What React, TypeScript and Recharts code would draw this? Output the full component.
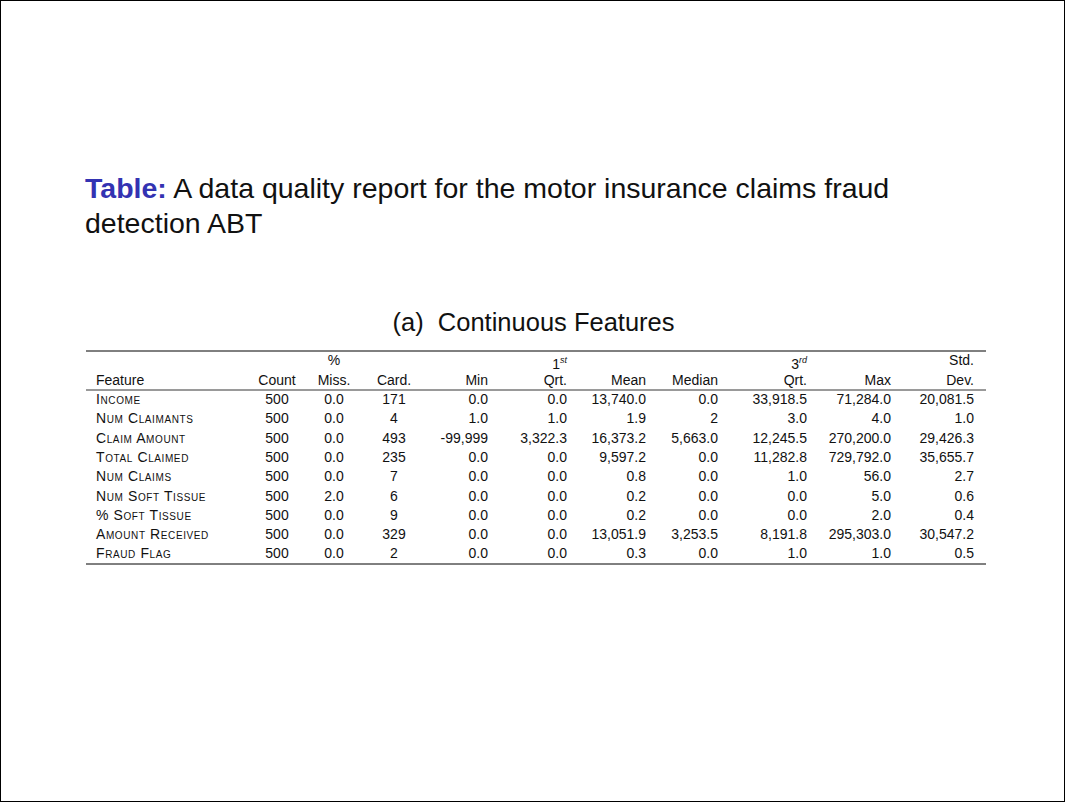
import React from "react"
import { Surface } from "recharts"

const features = ["Income", "Num Claimants", "Claim Amount", "Total Claimed", "Num Claims", "Num Soft Tissue", "% Soft Tissue", "Amount Received", "Fraud Flag"]
const count = ["500", "500", "500", "500", "500", "500", "500", "500", "500"]
const miss = ["0.0", "0.0", "0.0", "0.0", "0.0", "2.0", "0.0", "0.0", "0.0"]
const card = ["171", "4", "493", "235", "7", "6", "9", "329", "2"]
const minV = ["0.0", "1.0", "-99,999", "0.0", "0.0", "0.0", "0.0", "0.0", "0.0"]
const q1 = ["0.0", "1.0", "3,322.3", "0.0", "0.0", "0.0", "0.0", "0.0", "0.0"]
const mean = ["13,740.0", "1.9", "16,373.2", "9,597.2", "0.8", "0.2", "0.2", "13,051.9", "0.3"]
const median = ["0.0", "2", "5,663.0", "0.0", "0.0", "0.0", "0.0", "3,253.5", "0.0"]
const q3 = ["33,918.5", "3.0", "12,245.5", "11,282.8", "1.0", "0.0", "0.0", "8,191.8", "1.0"]
const maxV = ["71,284.0", "4.0", "270,200.0", "729,792.0", "56.0", "5.0", "2.0", "295,303.0", "1.0"]
const std = ["20,081.5", "1.0", "29,426.3", "35,655.7", "2.7", "0.6", "0.4", "30,547.2", "0.5"]

type Col = { vals: string[]; x: number; align: "left" | "right" | "center"; h1: React.ReactNode; h2: string }
const cols: Col[] = [
  { vals: features, x: 95, align: "left", h1: "", h2: "Feature" },
  { vals: count, x: 276, align: "center", h1: "", h2: "Count" },
  { vals: miss, x: 333, align: "center", h1: "%", h2: "Miss." },
  { vals: card, x: 393, align: "center", h1: "", h2: "Card." },
  { vals: minV, x: 487, align: "right", h1: "", h2: "Min" },
  { vals: q1, x: 566, align: "right", h1: <span>1<sup style={{ fontSize: 9 }}><i>st</i></sup></span>, h2: "Qrt." },
  { vals: mean, x: 645, align: "right", h1: "", h2: "Mean" },
  { vals: median, x: 717, align: "right", h1: "", h2: "Median" },
  { vals: q3, x: 806, align: "right", h1: <span>3<sup style={{ fontSize: 9 }}><i>rd</i></sup></span>, h2: "Qrt." },
  { vals: maxV, x: 890, align: "right", h1: "", h2: "Max" },
  { vals: std, x: 973, align: "right", h1: "Std.", h2: "Dev." },
]

function cell(text: React.ReactNode, x: number, y: number, align: string, key: string, smallCaps = false) {
  const w = 200
  const left = align === "left" ? x : align === "right" ? x - w : x - w / 2
  return (
    <div key={key} style={{ position: "absolute", left, top: y, width: w, textAlign: align as any, fontSize: 14, lineHeight: "16px", fontVariant: smallCaps ? "small-caps" : "normal", letterSpacing: smallCaps ? 0.6 : 0, whiteSpace: "nowrap" }}>
      {text}
    </div>
  )
}

export default function App() {
  const rowY = (i: number) => 390 + i * 19.3
  return (
    <div style={{ position: "absolute", left: 0, top: 0, width: 1063, height: 800, border: "1px solid #000", background: "#fff", fontFamily: "'Liberation Sans', Arial, sans-serif", color: "#111", overflow: "hidden" }}>
      <div style={{ position: "absolute", left: 84, top: 170, fontSize: 28.5, lineHeight: "35px", width: 960 }}>
        <b style={{ color: "#3333b2" }}>Table:</b> A data quality report for the motor insurance claims fraud<br />detection ABT
      </div>
      <div style={{ position: "absolute", left: 0, width: 1065, top: 307, textAlign: "center", fontSize: 25.5 }}>(a)&nbsp; Continuous Features</div>
      <Surface width={1065} height={802} style={{ position: "absolute", left: 0, top: 0 }}>
        <line x1={85} x2={985} y1={350} y2={350} stroke="#000" strokeWidth={1} />
        <line x1={85} x2={985} y1={389} y2={389} stroke="#000" strokeWidth={0.8} />
        <line x1={85} x2={985} y1={563} y2={563} stroke="#000" strokeWidth={1} />
      </Surface>
      {cols.map((c, j) => cell(c.h1, c.x, 351, c.align, "h1" + j))}
      {cols.map((c, j) => cell(c.h2, c.x, 371, c.align, "h2" + j))}
      {features.map((_, i) => cols.map((c, j) => cell(c.vals[i], c.x, rowY(i), c.align, `r${i}c${j}`, j === 0)))}
    </div>
  )
}
